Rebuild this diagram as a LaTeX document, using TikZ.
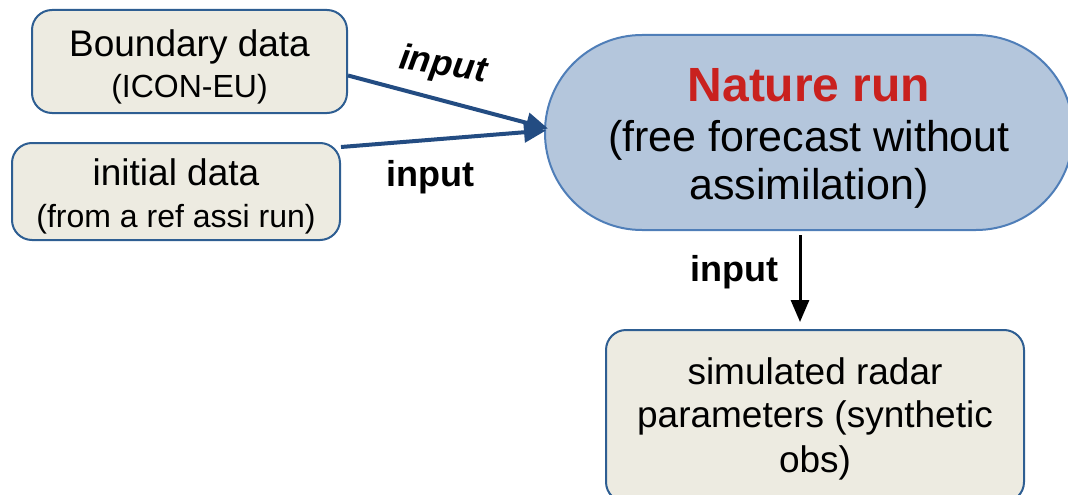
\documentclass[tikz,border=0pt]{standalone}
\usepackage{fontspec}
\setmainfont{Liberation Sans}
\usetikzlibrary{arrows.meta,calc}

\definecolor{boxfill}{HTML}{EDEBE1}
\definecolor{boxline}{HTML}{2E5E92}
\definecolor{natfill}{HTML}{B4C6DC}
\definecolor{natline}{HTML}{4F7EB8}
\definecolor{arrowblue}{HTML}{234C82}
\definecolor{natred}{HTML}{C9211E}

% invisible strut that lowers the text block inside a box
\newcommand\lowerby[1]{\rule{0pt}{#1}}

\tikzset{
  databox/.style={draw=boxline, fill=boxfill, line width=2pt, rounded corners=20pt,
    align=center, inner sep=0pt, font=\fontsize{37}{42}\selectfont},
  naturebox/.style={draw=natline, fill=natfill, line width=2pt, rounded corners=97pt,
    align=center, inner sep=0pt, font=\fontsize{43}{50}\selectfont},
  feed/.style={draw=arrowblue, line width=4pt, -{Triangle[length=22pt,width=20pt]}},
  produce/.style={draw=black, line width=3pt, -{Triangle[length=22pt,width=18pt]}},
  inlabel/.style={font=\fontsize{36}{40}\selectfont\bfseries, inner sep=0pt}
}

\begin{document}
\begin{tikzpicture}[x=1pt,y=-1pt]
  \path[use as bounding box, clip] (0,0) rectangle (1068,495);

  % source boxes
  \node[databox, minimum width=315pt, minimum height=103pt] (bnd) at (189.5,61.5)
    {\lowerby{37pt}Boundary data\\[-1pt]{\fontsize{32}{42}\selectfont (ICON-EU)}};
  \node[databox, minimum width=328pt, minimum height=97pt] (ini) at (176,191.5)
    {\lowerby{37pt}initial data\\{\fontsize{32}{42}\selectfont (from a ref assi run)}};

  % model run
  \node[naturebox, minimum width=528pt, minimum height=195pt] (nat) at (809,132.5)
    {\lowerby{45pt}{\fontsize{48}{50}\selectfont\bfseries\color{natred}Nature run}\\(free forecast without\\[-2pt]assimilation)};

  % derived observations
  \node[databox, minimum width=418pt, minimum height=172pt] (obs) at (815,416)
    {\lowerby{32pt}simulated radar\\[1pt]parameters (synthetic\\[3pt]obs)};

  % connectors
  \draw[feed] ([yshift=-14pt]bnd.east) -- ([yshift=4pt,xshift=4pt]nat.west);
  \draw[feed] ([yshift=-5pt]ini.north east) -- ([yshift=2pt,xshift=2pt]nat.west);
  \draw[produce, shorten >=7pt] ([xshift=-9pt,yshift=-4pt]nat.south) -- ([xshift=-15pt]obs.north);

  % labels
  \node[inlabel, rotate=-9] (lbnd) at (443,66) {\itshape input};
  \node[inlabel] (lini) at (430,177) {input};
  \node[inlabel] (lobs) at (734,272) {input};
\end{tikzpicture}
\end{document}
